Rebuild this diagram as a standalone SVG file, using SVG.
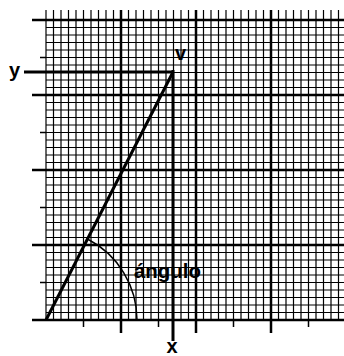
<svg xmlns="http://www.w3.org/2000/svg" width="344" height="356" viewBox="0 0 344 356">
<style>
.minor{stroke:#000;stroke-width:1.2;fill:none}
.major{stroke:#000;stroke-width:2.5;fill:none}
.tick{stroke:#000;stroke-width:1.5;fill:none}
.heavy{stroke:#000;stroke-width:3;fill:none}
.arc{stroke:#000;stroke-width:1.5;fill:none}
.lbl{font-family:"Liberation Sans",Arial,sans-serif;font-weight:bold;font-size:20px;fill:#000}
</style>
<rect width="344" height="356" fill="#fff"/>
<g id="grid">
<path class="minor" d="M46 10V320M53.5 10V320M61 10V320M68.5 10V320M76 10V320M83.5 10V320M91 10V320M98.5 10V320M106 10V320M113.5 10V320M121 10V320M128.5 10V320M136 10V320M143.5 10V320M151 10V320M158.5 10V320M166 10V320M173.5 10V320M181 10V320M188.5 10V320M196 10V320M203.5 10V320M211 10V320M218.5 10V320M226 10V320M233.5 10V320M241 10V320M248.5 10V320M256 10V320M263.5 10V320M271 10V320M278.5 10V320M286 10V320M293.5 10V320M301 10V320M308.5 10V320M316 10V320M323.5 10V320M331 10V320M338.5 10V320"/>
<path class="minor" d="M46 20H344M46 27.5H344M46 35H344M46 42.5H344M46 50H344M46 57.5H344M46 65H344M46 72.5H344M46 80H344M46 87.5H344M46 95H344M46 102.5H344M46 110H344M46 117.5H344M46 125H344M46 132.5H344M46 140H344M46 147.5H344M46 155H344M46 162.5H344M46 170H344M46 177.5H344M46 185H344M46 192.5H344M46 200H344M46 207.5H344M46 215H344M46 222.5H344M46 230H344M46 237.5H344M46 245H344M46 252.5H344M46 260H344M46 267.5H344M46 275H344M46 282.5H344M46 290H344M46 297.5H344M46 305H344M46 312.5H344M46 320H344"/>
<path class="major" d="M32 20H344M32 95H344M32 170H344M32 245H344M32 320H344"/>
<path class="major" d="M121 10V333M196 10V333M271 10V333"/>
<path class="tick" d="M40 57.5H46M40 132.5H46M40 207.5H46M40 282.5H46"/>
<path class="tick" d="M83.5 320V327M158.5 320V327M233.5 320V327M308.5 320V327"/>
</g>
<g id="axes">
<path class="heavy" d="M24 72H173"/>
<path class="heavy" d="M173 70V341"/>
</g>
<g id="vector">
<path class="heavy" d="M46 320L173 72"/>
</g>
<g id="angle-arc">
<path class="arc" d="M137 320A91 91 0 0 0 87.5 239"/>
</g>
<g id="labels">
<text class="lbl" x="20" y="77" text-anchor="end">y</text>
<text class="lbl" x="175" y="60">v</text>
<text class="lbl" x="172" y="353" text-anchor="middle">x</text>
<text class="lbl" x="134" y="278" textLength="67" lengthAdjust="spacingAndGlyphs">ángulo</text>
</g>
</svg>
